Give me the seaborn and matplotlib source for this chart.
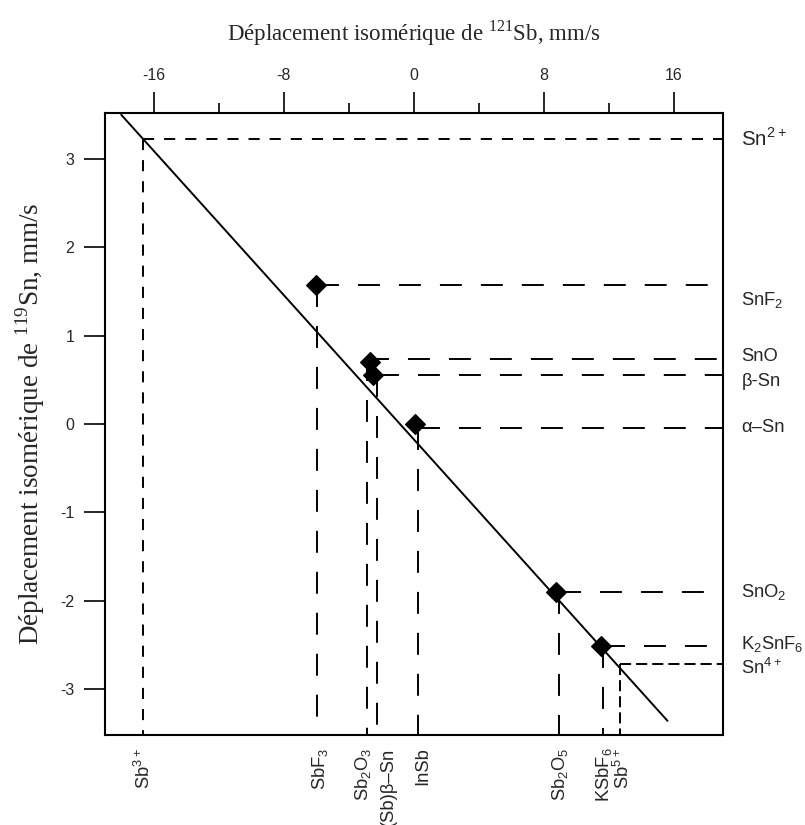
import matplotlib
matplotlib.use("Agg")
import matplotlib.pyplot as plt
import pandas as pd
import seaborn as sns

# Measured tin compounds: isomer shift on the 121Sb scale (x) and the 119Sn scale (y)
compounds = ["SnF2", "SnO", "beta-Sn", "alpha-Sn", "SnO2", "K2SnF6"]
sb_point = [-6.0, -2.7, -2.5, 0.05, 8.75, 11.5]
sn_point = [1.57, 0.70, 0.56, 0.0, -1.90, -2.51]

# End points of the correlation line
fit_sb = [-18.0, 15.6]
fit_sn = [3.50, -3.36]

# Reference levels read on each scale (right: Sn, bottom: Sb)
sn_labels = [r"Sn$^{\mathdefault{2+}}$", r"SnF$_{\mathdefault{2}}$", "SnO", "β-Sn", "α–Sn",
             r"SnO$_{\mathdefault{2}}$", r"K$_{\mathdefault{2}}$SnF$_{\mathdefault{6}}$",
             r"Sn$^{\mathdefault{4+}}$"]
sn_levels = [3.23, 1.57, 0.74, 0.555, -0.04, -1.90, -2.51, -2.72]
sb_labels = [r"Sb$^{\mathdefault{3+}}$", r"SbF$_{\mathdefault{3}}$",
             r"Sb$_{\mathdefault{2}}$O$_{\mathdefault{3}}$", "(Sb)β–Sn", "InSb",
             r"Sb$_{\mathdefault{2}}$O$_{\mathdefault{5}}$", r"KSbF$_{\mathdefault{6}}$",
             r"Sb$^{\mathdefault{5+}}$"]
sb_levels = [-16.66, -5.95, -2.87, -2.30, 0.23, 8.92, 11.60, 12.66]

top_ticks = [-16, -8, 0, 8, 16]
top_minor = [-12, -4, 4, 12]
top_ticklabels = ["-16", "-8", "0", "8", "16"]
left_ticks = [3, 2, 1, 0, -1, -2, -3]
left_ticklabels = ["3", "2", "1", "0", "-1", "-2", "-3"]

sns.set_style("ticks")
plt.rcParams["font.family"] = ["Liberation Sans", "DejaVu Sans"]
plt.rcParams["lines.scale_dashes"] = False
plt.rcParams["axes.unicode_minus"] = False

XMIN, XMAX = -19.0, 19.03
YMIN, YMAX = -3.52, 3.517

fig = plt.figure(figsize=(8.05, 8.25), dpi=100)
ax = fig.add_axes([105 / 805, 1 - 735 / 825, (723.3 - 105) / 805, (735 - 113.3) / 825])
ax.set_xlim(XMIN, XMAX)
ax.set_ylim(YMIN, YMAX)

# dash patterns (points)
long_dash = (0, (15.8, 13.7))
short_open = (0, (8.0, 7.2))
short_tight = (0, (8.0, 3.6))
styles = [short_open] + [long_dash] * 6 + [short_tight]

guide_lw = 1.4
for sb, sn, ls in zip(sb_levels, sn_levels, styles):
    ax.plot([sb, XMAX], [sn, sn], color="black", lw=guide_lw, linestyle=ls,
            zorder=2, clip_on=False, solid_capstyle="butt", dash_capstyle="butt")
    ax.plot([sb, sb], [sn, YMIN], color="black", lw=guide_lw, linestyle=ls,
            zorder=2, clip_on=False, solid_capstyle="butt", dash_capstyle="butt")

# correlation line
sns.lineplot(x=fit_sb, y=fit_sn, color="black", lw=1.4, ax=ax, zorder=3)

# measured compounds
pts = pd.DataFrame({"compound": compounds, "sb": sb_point, "sn": sn_point})
sns.scatterplot(data=pts, x="sb", y="sn", marker="D", s=100, color="black",
                edgecolor="black", linewidth=1, zorder=5, ax=ax, legend=False)

# labels of the Sn scale on the right
sn_label_y = [3.23, 1.40, 0.76, 0.48, -0.04, -1.90, -2.49, -2.76]
sn_label_size = [14.8, 13.2, 13.2, 13.2, 13.2, 13.2, 13.2, 13.2]
for lab, y, fs in zip(sn_labels, sn_label_y, sn_label_size):
    ax.annotate(lab, xy=(1.0, y), xycoords=ax.get_yaxis_transform(),
                xytext=(13, 0), textcoords="offset points",
                ha="left", va="center", fontsize=fs)

# labels of the Sb scale below the axis
sb_label_x = [-16.6, -5.8, -3.15, -1.55, 0.55, 9.0, 11.7, 12.85]
for lab, x in zip(sb_labels, sb_label_x):
    ax.annotate(lab, xy=(x, 0.0), xycoords=ax.get_xaxis_transform(),
                xytext=(0, -9), textcoords="offset points",
                ha="center", va="top", rotation=90, fontsize=13.2,
                annotation_clip=False)

# axes: Sb scale on top, Sn scale on the left
ax.xaxis.set_ticks_position("top")
ax.set_xticks(top_ticks)
ax.set_xticklabels(top_ticklabels)
ax.set_xticks(top_minor, minor=True)
ax.set_yticks(left_ticks)
ax.set_yticklabels(left_ticklabels)
ax.tick_params(axis="x", which="major", direction="out", length=15, width=1.4,
               pad=7, labelsize=11.5, top=True, bottom=False)
ax.tick_params(axis="x", which="minor", direction="out", length=7.5, width=1.4,
               top=True, bottom=False)
ax.tick_params(axis="y", which="major", direction="out", length=15, width=1.4,
               pad=7, labelsize=11.5, left=True, right=False)
ax.set_xlabel("")
ax.set_ylabel("")
for sp in ax.spines.values():
    sp.set_visible(True)
    sp.set_linewidth(1.5)
    sp.set_color("black")

fig.text(414 / 805, 1 - 33 / 825,
         r"Déplacement isomérique de $^{\mathdefault{121}}$Sb, mm/s",
         ha="center", va="center", fontsize=16.5, family="Liberation Serif")
fig.text(30 / 805, 1 - 424 / 825,
         r"Déplacement isomérique de $^{\mathdefault{119}}$Sn, mm/s",
         ha="center", va="center", rotation=90, fontsize=19.5, family="Liberation Serif")

fig.savefig("out.png", dpi=100)
